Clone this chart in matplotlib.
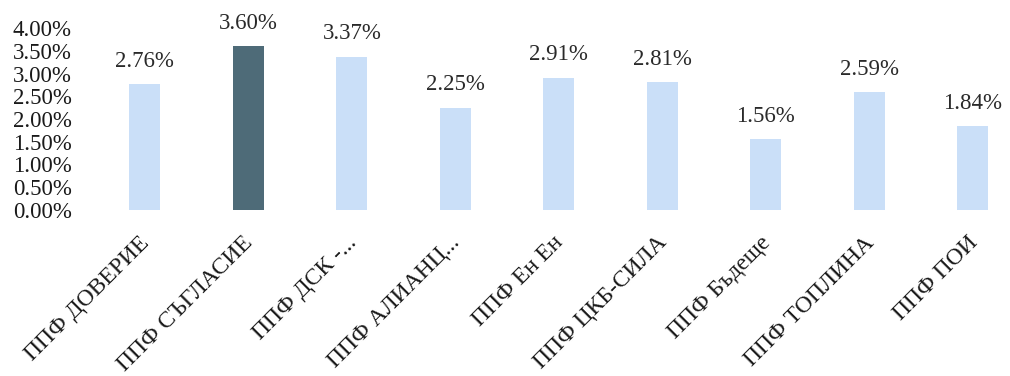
import matplotlib.pyplot as plt
import matplotlib.transforms as mtrans
from matplotlib.ticker import FuncFormatter

# данни: фондове и доходност в %
fondove = ['ППФ ДОВЕРИЕ', 'ППФ СЪГЛАСИЕ', 'ППФ ДСК -...', 'ППФ АЛИАНЦ...', 'ППФ Ен Ен',
           'ППФ ЦКБ-СИЛА', 'ППФ Бъдеще', 'ППФ ТОПЛИНА', 'ППФ ПОИ']
dohodnost = [2.76, 3.60, 3.37, 2.25, 2.91, 2.81, 1.56, 2.59, 1.84]
y_ticks = [0, 0.5, 1.0, 1.5, 2.0, 2.5, 3.0, 3.5, 4.0]

plt.rcParams['font.family'] = ['Liberation Serif', 'DejaVu Serif']

fig = plt.figure(figsize=(10.1, 3.76), dpi=100)
ax = fig.add_axes([90 / 1010, 1 - 210 / 376, 915 / 1010, 182 / 376])

cvetove = ['#cadff8'] * len(fondove)
cvetove[1] = '#4e6b78'
x = list(range(len(fondove)))
bars = ax.bar(x, dohodnost, width=0.3, color=cvetove)

for xi, v in zip(x, dohodnost):
    ax.annotate(f'{v:.2f}%', (xi, v), xytext=(0, 9), textcoords='offset points',
                ha='center', va='bottom', fontsize=16.5, color='#2a2a2a', annotation_clip=False)

ax.set_xlim(-0.53, 8.31)
ax.set_ylim(0, 4)
ax.set_yticks(y_ticks)
ax.yaxis.set_major_formatter(FuncFormatter(lambda v, p: f'{v:.2f}%'))
ax.set_xticks(x)
ax.set_xticklabels(fondove, rotation=45, ha='right', va='top', rotation_mode='anchor')
ax.tick_params(axis='both', length=0, colors='#1a1a1a')
ax.tick_params(axis='x', labelsize=17, pad=16)
ax.tick_params(axis='y', labelsize=16.5, pad=13)
for s in ax.spines.values():
    s.set_visible(False)

# малко наляво, както в оригинала
pomestvane = mtrans.ScaledTranslation(-6 / 100, 0, fig.dpi_scale_trans)
for lbl in ax.get_xticklabels():
    lbl.set_transform(lbl.get_transform() + pomestvane)

fig.savefig('out.png', dpi=100)
